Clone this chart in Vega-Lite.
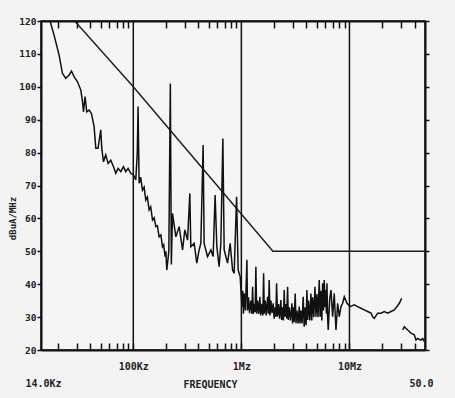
{
  "$schema": "https://vega.github.io/schema/vega-lite/v6.json",
  "width": 384,
  "height": 329,
  "autosize": {"type": "none"},
  "padding": {"left": 41, "top": 21, "right": 30, "bottom": 48},
  "background": "#f3f3f3",
  "config": {
    "view": {"stroke": "#111", "strokeWidth": 1.5, "fill": "#f5f5f5"},
    "font": "DejaVu Sans Mono"
  },
  "datasets": {
    "trace": [
      {"f": 16980, "db": 120, "seg": 1}, {"f": 18490, "db": 115.7, "seg": 1}, {"f": 20560, "db": 109.7, "seg": 1},
      {"f": 22100, "db": 104.1, "seg": 1}, {"f": 23700, "db": 102.6, "seg": 1}, {"f": 25500, "db": 103.6, "seg": 1},
      {"f": 26800, "db": 104.8, "seg": 1}, {"f": 28300, "db": 103.1, "seg": 1}, {"f": 30400, "db": 101.6, "seg": 1},
      {"f": 32700, "db": 99, "seg": 1}, {"f": 33900, "db": 95.5, "seg": 1}, {"f": 34600, "db": 92.4, "seg": 1},
      {"f": 35800, "db": 97, "seg": 1}, {"f": 37100, "db": 92.4, "seg": 1}, {"f": 39000, "db": 92.9, "seg": 1},
      {"f": 41000, "db": 91.9, "seg": 1}, {"f": 43400, "db": 87.9, "seg": 1}, {"f": 45000, "db": 81.3, "seg": 1},
      {"f": 47200, "db": 81.3, "seg": 1}, {"f": 50000, "db": 86.9, "seg": 1}, {"f": 51100, "db": 81.3, "seg": 1},
      {"f": 53000, "db": 77.2, "seg": 1}, {"f": 55600, "db": 79.3, "seg": 1}, {"f": 58500, "db": 76.7, "seg": 1},
      {"f": 61900, "db": 77.7, "seg": 1}, {"f": 65600, "db": 75.7, "seg": 1}, {"f": 68900, "db": 73.7, "seg": 1},
      {"f": 72300, "db": 75.2, "seg": 1}, {"f": 76600, "db": 74.2, "seg": 1}, {"f": 81100, "db": 75.7, "seg": 1},
      {"f": 85200, "db": 74.2, "seg": 1}, {"f": 89500, "db": 75.2, "seg": 1}, {"f": 94800, "db": 73.7, "seg": 1},
      {"f": 100400, "db": 73.2, "seg": 1}, {"f": 105500, "db": 71.7, "seg": 1}, {"f": 108900, "db": 80, "seg": 1},
      {"f": 110700, "db": 94, "seg": 1}, {"f": 113200, "db": 70.7, "seg": 1}, {"f": 117000, "db": 72.5, "seg": 1},
      {"f": 121600, "db": 68.6, "seg": 1}, {"f": 126000, "db": 69.5, "seg": 1}, {"f": 130500, "db": 65.6, "seg": 1},
      {"f": 135000, "db": 66.5, "seg": 1}, {"f": 140100, "db": 62.6, "seg": 1}, {"f": 145000, "db": 63.5, "seg": 1},
      {"f": 150600, "db": 59.5, "seg": 1}, {"f": 156000, "db": 60.2, "seg": 1}, {"f": 161600, "db": 57.5, "seg": 1},
      {"f": 167000, "db": 57.8, "seg": 1}, {"f": 173400, "db": 54.4, "seg": 1}, {"f": 180000, "db": 55, "seg": 1},
      {"f": 186200, "db": 51.4, "seg": 1}, {"f": 191000, "db": 52, "seg": 1}, {"f": 196900, "db": 48.4, "seg": 1},
      {"f": 200000, "db": 50, "seg": 1}, {"f": 204200, "db": 44.3, "seg": 1}, {"f": 213200, "db": 50, "seg": 1},
      {"f": 220200, "db": 101, "seg": 1}, {"f": 224900, "db": 46, "seg": 1}, {"f": 230600, "db": 61.5, "seg": 1},
      {"f": 247600, "db": 54.4, "seg": 1}, {"f": 265700, "db": 57.5, "seg": 1}, {"f": 285600, "db": 50.4, "seg": 1},
      {"f": 299900, "db": 56.5, "seg": 1}, {"f": 317700, "db": 53.4, "seg": 1}, {"f": 333600, "db": 67.6, "seg": 1},
      {"f": 340600, "db": 51.4, "seg": 1}, {"f": 365600, "db": 52.4, "seg": 1}, {"f": 387200, "db": 46.4, "seg": 1},
      {"f": 406400, "db": 50.4, "seg": 1}, {"f": 421700, "db": 52.4, "seg": 1}, {"f": 442800, "db": 82.3, "seg": 1},
      {"f": 452400, "db": 52.4, "seg": 1}, {"f": 486300, "db": 48.4, "seg": 1}, {"f": 522200, "db": 50.4, "seg": 1},
      {"f": 548100, "db": 48.4, "seg": 1}, {"f": 571600, "db": 67.1, "seg": 1}, {"f": 592900, "db": 51.4, "seg": 1},
      {"f": 622600, "db": 45.3, "seg": 1}, {"f": 645700, "db": 52.4, "seg": 1}, {"f": 674200, "db": 84.3, "seg": 1},
      {"f": 693100, "db": 50.4, "seg": 1}, {"f": 745000, "db": 46.4, "seg": 1}, {"f": 787500, "db": 52.4, "seg": 1},
      {"f": 829300, "db": 44.3, "seg": 1}, {"f": 857600, "db": 43.3, "seg": 1}, {"f": 903000, "db": 66.6, "seg": 1},
      {"f": 934000, "db": 44.3, "seg": 1}, {"f": 974800, "db": 42.3, "seg": 1}, {"f": 1012000, "db": 33.2, "seg": 1},
      {"f": 1030000, "db": 38, "seg": 1}, {"f": 1045000, "db": 31, "seg": 1}, {"f": 1062000, "db": 37.2, "seg": 1},
      {"f": 1090000, "db": 32, "seg": 1}, {"f": 1125000, "db": 47.4, "seg": 1}, {"f": 1140000, "db": 32, "seg": 1},
      {"f": 1166000, "db": 36, "seg": 1}, {"f": 1190000, "db": 31.2, "seg": 1}, {"f": 1225000, "db": 35, "seg": 1},
      {"f": 1250000, "db": 31, "seg": 1}, {"f": 1270000, "db": 39.2, "seg": 1}, {"f": 1290000, "db": 31, "seg": 1},
      {"f": 1315000, "db": 34, "seg": 1}, {"f": 1340000, "db": 31.5, "seg": 1}, {"f": 1362000, "db": 45.3, "seg": 1},
      {"f": 1385000, "db": 31, "seg": 1}, {"f": 1413000, "db": 35, "seg": 1}, {"f": 1450000, "db": 31, "seg": 1},
      {"f": 1483000, "db": 36.2, "seg": 1}, {"f": 1510000, "db": 30.5, "seg": 1}, {"f": 1549000, "db": 34, "seg": 1},
      {"f": 1580000, "db": 30.5, "seg": 1}, {"f": 1606000, "db": 43.3, "seg": 1}, {"f": 1630000, "db": 31, "seg": 1},
      {"f": 1661000, "db": 35, "seg": 1}, {"f": 1700000, "db": 30.5, "seg": 1}, {"f": 1749000, "db": 36.2, "seg": 1},
      {"f": 1780000, "db": 31, "seg": 1}, {"f": 1809000, "db": 41.3, "seg": 1}, {"f": 1840000, "db": 30.5, "seg": 1},
      {"f": 1876000, "db": 35, "seg": 1}, {"f": 1920000, "db": 31.2, "seg": 1}, {"f": 1969000, "db": 34.2, "seg": 1},
      {"f": 2010000, "db": 29.5, "seg": 1}, {"f": 2055000, "db": 33, "seg": 1}, {"f": 2085000, "db": 30.1, "seg": 1},
      {"f": 2118000, "db": 40.3, "seg": 1}, {"f": 2160000, "db": 30.1, "seg": 1}, {"f": 2210000, "db": 34, "seg": 1},
      {"f": 2260000, "db": 29.5, "seg": 1}, {"f": 2321000, "db": 35.2, "seg": 1}, {"f": 2360000, "db": 29.1, "seg": 1},
      {"f": 2406000, "db": 33, "seg": 1}, {"f": 2450000, "db": 29, "seg": 1}, {"f": 2490000, "db": 38.2, "seg": 1},
      {"f": 2530000, "db": 30.1, "seg": 1}, {"f": 2582000, "db": 34, "seg": 1}, {"f": 2630000, "db": 29.5, "seg": 1},
      {"f": 2677000, "db": 39.2, "seg": 1}, {"f": 2720000, "db": 29.1, "seg": 1}, {"f": 2772000, "db": 33, "seg": 1},
      {"f": 2850000, "db": 29, "seg": 1}, {"f": 2936000, "db": 34.2, "seg": 1}, {"f": 2980000, "db": 28.1, "seg": 1},
      {"f": 3019000, "db": 33, "seg": 1}, {"f": 3080000, "db": 28.5, "seg": 1}, {"f": 3149000, "db": 37.2, "seg": 1},
      {"f": 3200000, "db": 28.1, "seg": 1}, {"f": 3266000, "db": 32, "seg": 1}, {"f": 3350000, "db": 28.1, "seg": 1},
      {"f": 3430000, "db": 33.2, "seg": 1}, {"f": 3490000, "db": 28.1, "seg": 1}, {"f": 3556000, "db": 32, "seg": 1},
      {"f": 3640000, "db": 28.1, "seg": 1}, {"f": 3734000, "db": 36.2, "seg": 1}, {"f": 3810000, "db": 27.1, "seg": 1},
      {"f": 3897000, "db": 33, "seg": 1}, {"f": 3970000, "db": 27.5, "seg": 1}, {"f": 4040000, "db": 38.2, "seg": 1},
      {"f": 4110000, "db": 29.1, "seg": 1}, {"f": 4189000, "db": 35, "seg": 1}, {"f": 4300000, "db": 29, "seg": 1},
      {"f": 4402000, "db": 37.2, "seg": 1}, {"f": 4480000, "db": 29, "seg": 1}, {"f": 4563000, "db": 36, "seg": 1},
      {"f": 4680000, "db": 30, "seg": 1}, {"f": 4795000, "db": 39.2, "seg": 1}, {"f": 4900000, "db": 30.1, "seg": 1},
      {"f": 5003000, "db": 37, "seg": 1}, {"f": 5120000, "db": 30, "seg": 1}, {"f": 5252000, "db": 41.3, "seg": 1},
      {"f": 5350000, "db": 30.1, "seg": 1}, {"f": 5446000, "db": 38, "seg": 1}, {"f": 5550000, "db": 29, "seg": 1},
      {"f": 5648000, "db": 40.3, "seg": 1}, {"f": 5750000, "db": 32, "seg": 1}, {"f": 5844000, "db": 41.3, "seg": 1},
      {"f": 5950000, "db": 33, "seg": 1}, {"f": 6057000, "db": 38.2, "seg": 1}, {"f": 6120000, "db": 31, "seg": 1},
      {"f": 6190000, "db": 40.3, "seg": 1}, {"f": 6280000, "db": 30, "seg": 1}, {"f": 6363000, "db": 26.1, "seg": 1},
      {"f": 6556000, "db": 35.2, "seg": 1}, {"f": 6742000, "db": 38.2, "seg": 1}, {"f": 6989000, "db": 30.1, "seg": 1},
      {"f": 7231000, "db": 37.2, "seg": 1}, {"f": 7499000, "db": 26.1, "seg": 1}, {"f": 7776000, "db": 34.2, "seg": 1},
      {"f": 8048000, "db": 30.1, "seg": 1}, {"f": 8344000, "db": 33.2, "seg": 1}, {"f": 8652000, "db": 34.2, "seg": 1},
      {"f": 8955000, "db": 36.2, "seg": 1}, {"f": 9486000, "db": 34.2, "seg": 1}, {"f": 10170000, "db": 33.2, "seg": 1},
      {"f": 11070000, "db": 33.7, "seg": 1}, {"f": 11910000, "db": 33.2, "seg": 1}, {"f": 12770000, "db": 32.7, "seg": 1},
      {"f": 13710000, "db": 32.2, "seg": 1}, {"f": 14740000, "db": 31.7, "seg": 1}, {"f": 15820000, "db": 31.2, "seg": 1},
      {"f": 16400000, "db": 30.1, "seg": 1}, {"f": 16980000, "db": 29.6, "seg": 1}, {"f": 18240000, "db": 31.2, "seg": 1},
      {"f": 19580000, "db": 31.2, "seg": 1}, {"f": 21000000, "db": 31.7, "seg": 1}, {"f": 22580000, "db": 31.2, "seg": 1},
      {"f": 24230000, "db": 31.7, "seg": 1}, {"f": 26000000, "db": 32.2, "seg": 1}, {"f": 27550000, "db": 33.2, "seg": 1},
      {"f": 28920000, "db": 34.2, "seg": 1}, {"f": 30420000, "db": 35.7, "seg": 1},
      {"f": 31110000, "db": 26.1, "seg": 2}, {"f": 32160000, "db": 27.1, "seg": 2}, {"f": 34580000, "db": 26.1, "seg": 2},
      {"f": 37090000, "db": 25.1, "seg": 2}, {"f": 39810000, "db": 24.6, "seg": 2}, {"f": 41300000, "db": 23, "seg": 2},
      {"f": 42760000, "db": 23.5, "seg": 2}, {"f": 45920000, "db": 23, "seg": 2}, {"f": 47640000, "db": 23.5, "seg": 2},
      {"f": 49300000, "db": 22.5, "seg": 2}
    ],
    "limit": [
      {"f": 28700, "db": 120}, {"f": 100000, "db": 100}, {"f": 1958000, "db": 50}, {"f": 50000000, "db": 50}
    ],
    "grid": [{"f": 100000}, {"f": 1000000}, {"f": 10000000}]
  },
  "layer": [
    {
      "data": {"name": "grid"},
      "mark": {"type": "rule", "color": "#111", "strokeWidth": 1.5},
      "encoding": {
        "x": {
          "field": "f", "type": "quantitative",
          "scale": {"type": "log", "domain": [14000, 50000000], "nice": false},
          "axis": {
            "orient": "top", "title": null, "labels": false, "grid": false,
            "values": [20000,30000,40000,50000,60000,70000,80000,90000,200000,300000,400000,500000,600000,700000,800000,900000,2000000,3000000,4000000,5000000,6000000,7000000,8000000,9000000,20000000,30000000,40000000],
            "tickSize": -7, "tickColor": "#111", "tickWidth": 1.5,
            "domainColor": "#111", "domainWidth": 2
          }
        }
      }
    },
    {
      "data": {"name": "limit"},
      "mark": {"type": "line", "color": "#1a1a1a", "strokeWidth": 1.4, "clip": true},
      "encoding": {
        "x": {"field": "f", "type": "quantitative", "axis": null},
        "y": {
          "field": "db", "type": "quantitative",
          "scale": {"domain": [20, 120], "nice": false, "zero": false},
          "axis": {
            "orient": "right", "title": null, "labels": false, "grid": false,
            "values": [20,30,40,50,60,70,80,90,100,110,120],
            "tickSize": 4, "tickColor": "#111", "tickWidth": 1.5,
            "domainColor": "#111", "domainWidth": 2
          }
        }
      }
    },
    {
      "data": {"name": "trace"},
      "mark": {"type": "line", "color": "#111", "strokeWidth": 1.5, "clip": true},
      "encoding": {
        "detail": {"field": "seg", "type": "nominal"},
        "x": {
          "field": "f", "type": "quantitative",
          "axis": {
            "orient": "bottom", "grid": false,
            "values": [14000,20000,30000,40000,50000,60000,70000,80000,90000,100000,200000,300000,400000,500000,600000,700000,800000,900000,1000000,2000000,3000000,4000000,5000000,6000000,7000000,8000000,9000000,10000000,20000000,30000000,40000000,50000000],
            "labelExpr": "datum.value == 14000 ? '14.0Kz' : datum.value == 100000 ? '100Kz' : datum.value == 1000000 ? '1Mz' : datum.value == 10000000 ? '10Mz' : datum.value == 50000000 ? '50.0' : ''",
            "labelFont": "DejaVu Sans Mono", "labelFontSize": 10, "labelFontWeight": "bold", "labelColor": "#222",
            "labelAlign": "center", "labelBaseline": "top", "labelFlush": false, "labelOverlap": false, "labelBound": false,
            "labelPadding": {"condition": {"test": "datum.value == 14000 || datum.value == 50000000", "value": 28}, "value": 18},
            "labelOffset": {"condition": [{"test": "datum.value == 14000", "value": 2}, {"test": "datum.value == 50000000", "value": -4}], "value": 0},
            "tickSize": {"condition": {"test": "datum.value == 14000 || datum.value == 50000000", "value": 0}, "value": -7},
            "tickColor": "#111", "tickWidth": 1.5,
            "domainColor": "#111", "domainWidth": 2,
            "title": "FREQUENCY", "titleFont": "DejaVu Sans Mono", "titleFontSize": 10, "titleFontWeight": "bold", "titleColor": "#222",
            "titleX": 169, "titleY": 34, "titleAlign": "center", "titleBaseline": "middle"
          }
        },
        "y": {
          "field": "db", "type": "quantitative",
          "axis": {
            "orient": "left", "grid": false,
            "values": [20,30,40,50,60,70,80,90,100,110,120],
            "labelFont": "DejaVu Sans Mono", "labelFontSize": 9.5, "labelFontWeight": "bold", "labelColor": "#222", "labelPadding": 1,
            "tickSize": 4, "tickColor": "#111", "tickWidth": 1.5,
            "domainColor": "#111", "domainWidth": 2,
            "title": "dBuA/MHz", "titleFont": "DejaVu Sans Mono", "titleFontSize": 9, "titleFontWeight": "bold", "titleColor": "#222",
            "titleAngle": 270, "titleX": -29, "titleY": 197, "titleAlign": "center", "titleBaseline": "middle"
          }
        }
      }
    }
  ]
}
